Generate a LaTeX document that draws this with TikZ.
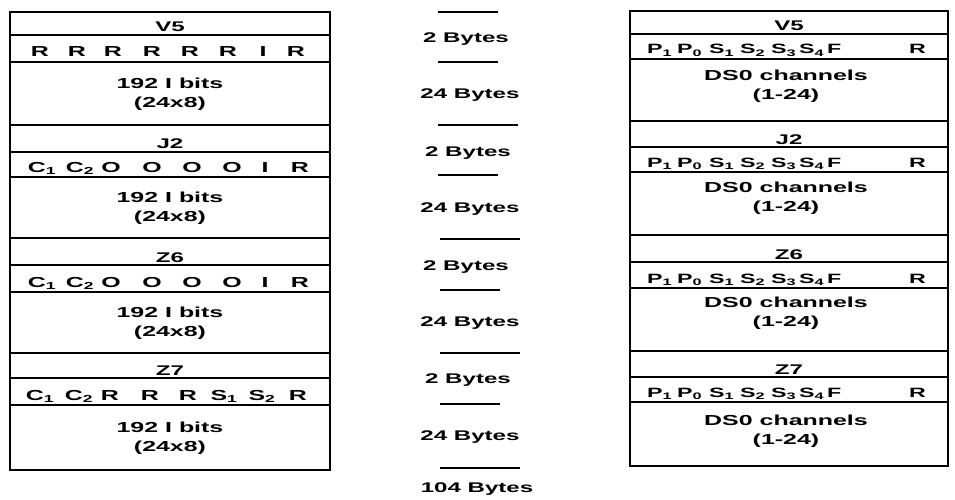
\documentclass[tikz,border=0pt]{standalone}
\usepackage{fontspec}
\setmainfont[FakeStretch=1.72]{Liberation Sans}
\begin{document}
\begin{tikzpicture}[x=1pt,y=-1pt,
  outer/.style={line width=2.2pt},
  inner/.style={line width=1.6pt},
  sepline/.style={line width=1.6pt},
  title/.style={font=\bfseries\fontsize{14}{14}\selectfont, inner sep=0pt, anchor=base},
  bitlbl/.style={font=\bfseries\fontsize{14.5}{14.5}\selectfont, inner sep=0pt, anchor=base},
  rbitlbl/.style={font=\bfseries\fontsize{13.5}{13.5}\selectfont, inner sep=0pt, anchor=base west},
  body/.style={font=\bfseries\fontsize{14.5}{19}\selectfont, inner sep=0pt, align=center},
  mid/.style={font=\bfseries\fontsize{14}{14}\selectfont, inner sep=0pt}]
\useasboundingbox (0,0) rectangle (955,500);

% ---------- left frame ----------
\draw[outer] (10,12) rectangle (330,470);
\foreach \y in {35,62,125,152,177,238,265,292,353,378,405}
  \draw[inner] (10,\y) -- (330,\y);

\node[title] (lt1) at (170,32) {V5};
\node[title] (lt2) at (170,148) {J2};
\node[title] (lt3) at (170,262) {Z6};
\node[title] (lt4) at (170,375) {Z7};

\foreach \x/\t [count=\i] in {40/R,77/R,113/R,152/R,190/R,228/R,263/I,296/R}
  \node[bitlbl] (la\i) at (\x,57) {\t};
\foreach \x/\t [count=\i] in {42/{C\textsubscript{1}},80/{C\textsubscript{2}},111/O,152/O,192/O,232/O,265/I,300/R}
  \node[bitlbl] (lb\i) at (\x,172) {\t};
\foreach \x/\t [count=\i] in {42/{C\textsubscript{1}},80/{C\textsubscript{2}},111/O,152/O,192/O,232/O,265/I,300/R}
  \node[bitlbl] (lc\i) at (\x,287) {\t};
\foreach \x/\t [count=\i] in {40/{C\textsubscript{1}},79/{C\textsubscript{2}},110/R,150/R,188/R,224/{S\textsubscript{1}},262/{S\textsubscript{2}},298/R}
  \node[bitlbl] (ld\i) at (\x,400) {\t};

\node[body] (lp1) at (170,94) {192 I bits\\(24x8)};
\node[body] (lp2) at (170,208) {192 I bits\\(24x8)};
\node[body] (lp3) at (170,323) {192 I bits\\(24x8)};
\node[body] (lp4) at (170,438) {192 I bits\\(24x8)};

% ---------- middle column ----------
\draw[sepline] (438,12) -- (498,12);
\node[mid] (m1) at (466,39) {2 Bytes};
\draw[sepline] (438,62) -- (498,62);
\node[mid] (m2) at (470,95) {24 Bytes};
\draw[sepline] (438,125) -- (518,125);
\node[mid] (m3) at (468,153) {2 Bytes};
\draw[sepline] (438,175) -- (498,175);
\node[mid] (m4) at (470,209) {24 Bytes};
\draw[sepline] (440,239) -- (520,239);
\node[mid] (m5) at (466,267) {2 Bytes};
\draw[sepline] (440,290) -- (500,290);
\node[mid] (m6) at (470,323) {24 Bytes};
\draw[sepline] (440,353) -- (520,353);
\node[mid] (m7) at (468,380) {2 Bytes};
\draw[sepline] (440,404) -- (500,404);
\node[mid] (m8) at (470,437) {24 Bytes};
\draw[sepline] (440,468) -- (520,468);
\node[mid] (m9) at (477,489) {104 Bytes};

% ---------- right frame ----------
\draw[outer] (630,11) rectangle (948,466);
\foreach \y in {34,59,121,147,172,235,262,288,351,377,402}
  \draw[inner] (630,\y) -- (948,\y);

\node[title] (rt1) at (789,31) {V5};
\node[title] (rt2) at (789,144) {J2};
\node[title] (rt3) at (789,259) {Z6};
\node[title] (rt4) at (789,374) {Z7};

\foreach \yb/\r in {54/a,167/b,283/c,397/d}{
  \foreach \x/\t [count=\i] in {647/{P\textsubscript{1}},677/{P\textsubscript{0}},709/{S\textsubscript{1}},740/{S\textsubscript{2}},771/{S\textsubscript{3}},799/{S\textsubscript{4}},827/F,909/R}
    \node[rbitlbl] (r\r\i) at (\x,\yb) {\t};
}

\node[body] (rp1) at (786,86) {DS0 channels\\(1-24)};
\node[body] (rp2) at (786,198) {DS0 channels\\(1-24)};
\node[body] (rp3) at (786,313) {DS0 channels\\(1-24)};
\node[body] (rp4) at (786,431) {DS0 channels\\(1-24)};
\end{tikzpicture}
\end{document}
